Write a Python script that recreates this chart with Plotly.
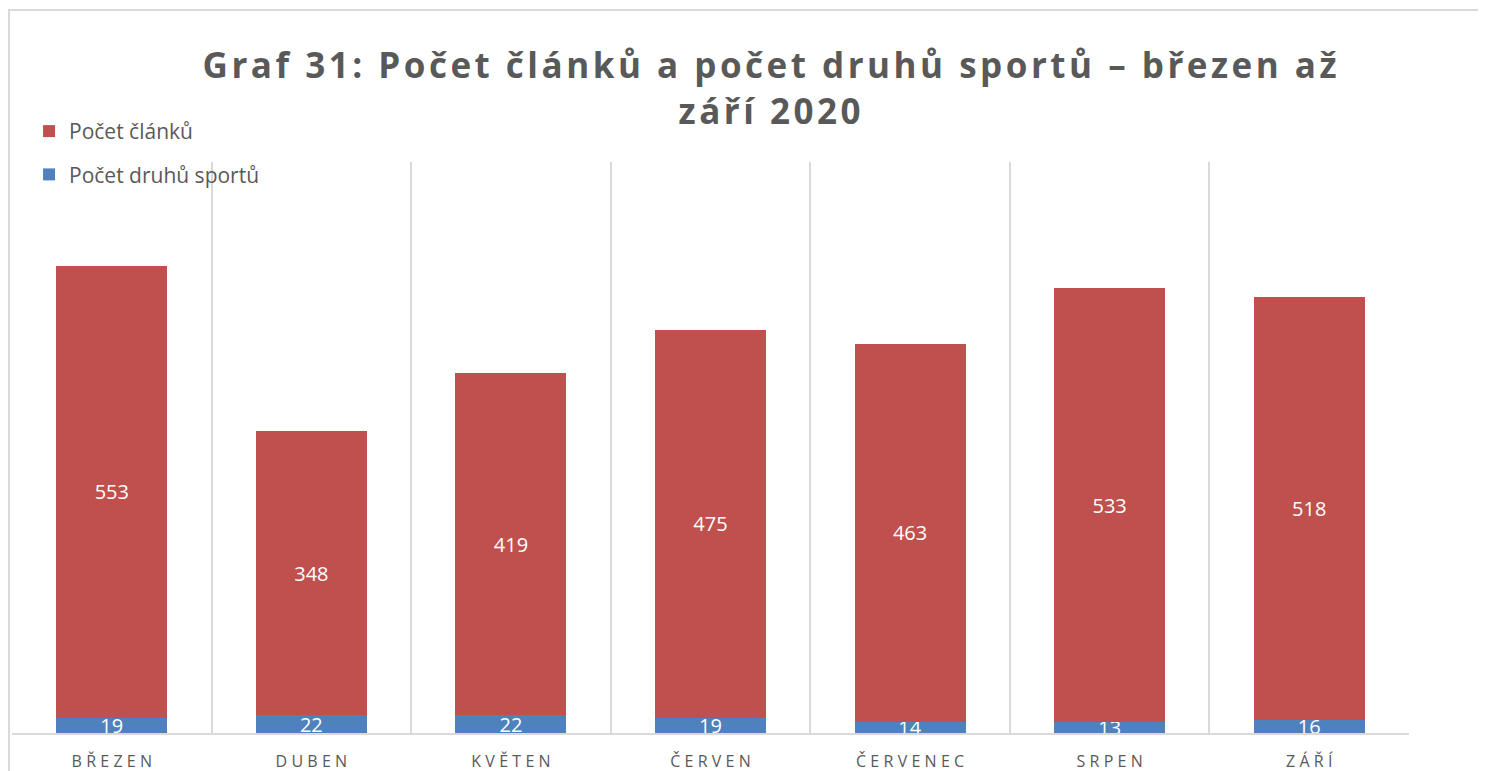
import plotly.graph_objects as go

# data
mesice = ['BŘEZEN', 'DUBEN', 'KVĚTEN', 'ČERVEN', 'ČERVENEC', 'SRPEN', 'ZÁŘÍ']
pocet_druhu = [19, 22, 22, 19, 14, 13, 16]
pocet_clanku = [553, 348, 419, 475, 463, 533, 518]

TITLE = 'Graf 31: Počet článků a počet druhů sportů – březen až<br>září 2020'


def spaced(s, sep='\u2009'):
    # imitate the letter spacing of the original (plotly has no letter-spacing)
    return sep.join(list(s))


tick_labels = [spaced(m, '\u2009\u200a') for m in mesice]
title_text = '<br>'.join(spaced(line, '\u200a') for line in TITLE.split('<br>'))

fig = go.Figure()
fig.add_trace(go.Bar(
    x=mesice, y=pocet_druhu, name='Počet druhů sportů',
    marker=dict(color='#4F81BD', line=dict(width=0)),
    text=pocet_druhu, textposition='inside', insidetextanchor='middle',
    constraintext='none', textangle=0,
    insidetextfont=dict(color='white', size=20, family='Open Sans'),
    legendgroup='d', legendrank=2, hoverinfo='x+y+name'
))
fig.add_trace(go.Bar(
    x=mesice, y=pocet_clanku, name='Počet článků',
    marker=dict(color='#C0504D', line=dict(width=0)),
    text=pocet_clanku, textposition='inside', insidetextanchor='middle',
    constraintext='none', textangle=0,
    insidetextfont=dict(color='white', size=20, family='Open Sans'),
    legendgroup='c', legendrank=1, hoverinfo='x+y+name'
))

fig.update_layout(
    width=1486, height=771,
    barmode='stack', bargap=0.444,
    paper_bgcolor='white', plot_bgcolor='white',
    margin=dict(l=4, r=85, t=154, b=46),
    font=dict(family='Open Sans', color='#595959'),
    title=dict(
        text=title_text, x=0.5125, xanchor='center',
        y=0.909, yanchor='middle',
        font=dict(size=35, color='#595959', family='Open Sans', weight='bold')
    ),
    legend=dict(
        x=0.0122, y=1.0894, xanchor='left', yanchor='top',
        traceorder='grouped', tracegroupgap=13,
        font=dict(size=21, color='#595959'),
        bgcolor='rgba(0,0,0,0)', itemwidth=30
    ),
    showlegend=True,
    shapes=[dict(
        type='rect', xref='paper', yref='paper',
        x0=-0.00215, x1=1.2, y0=-0.5, y1=1.266,
        line=dict(color='#d9d9d9', width=2), layer='below'
    )]
)
fig.update_xaxes(
    tickvals=mesice, ticktext=tick_labels,
    tickson='boundaries', showgrid=True, gridcolor='#d9d9d9', gridwidth=1.5,
    showline=True, linecolor='#d9d9d9', linewidth=1.5,
    ticks='', ticklabelstandoff=13, tickfont=dict(size=16, color='#595959'),
    fixedrange=True
)
fig.update_yaxes(range=[0, 700], visible=False, showgrid=False, fixedrange=True)

fig.write_html('out.html')
